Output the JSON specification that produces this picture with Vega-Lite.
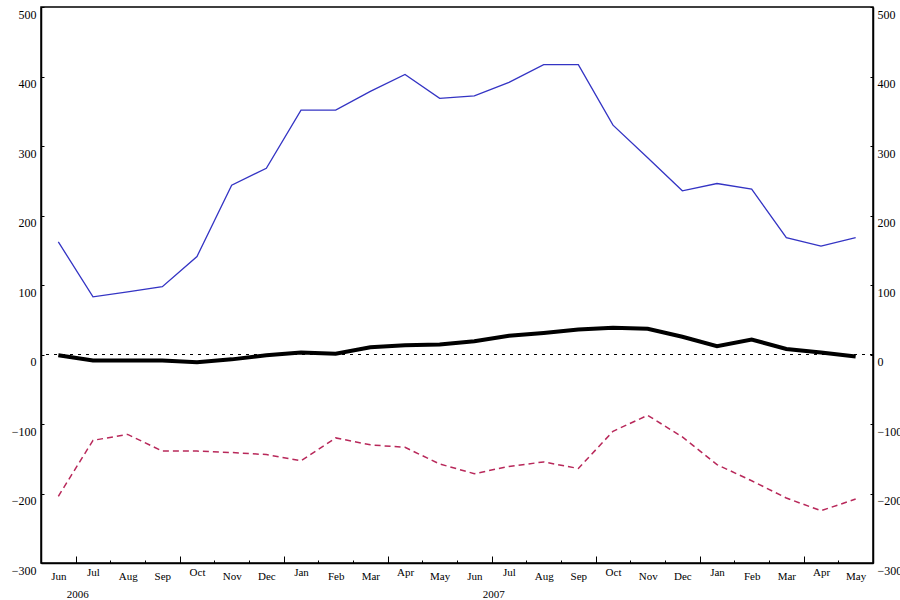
{
  "$schema": "https://vega.github.io/schema/vega-lite/v6.json",
  "width": 832,
  "height": 556,
  "autosize": "none",
  "padding": {"left": 41, "top": 7, "right": 27, "bottom": 37},
  "background": "white",
  "config": {"view": {"stroke": "black", "strokeWidth": 1.5}, "font": "Liberation Serif"},
  "data": {"values": [
    {"m": "Jun 2006", "blue": 162, "black": -1, "red": -204},
    {"m": "Jul 2006", "blue": 83, "black": -8.6, "red": -123.5},
    {"m": "Aug 2006", "blue": 90, "black": -8.6, "red": -115},
    {"m": "Sep 2006", "blue": 97.5, "black": -8.6, "red": -139},
    {"m": "Oct 2006", "blue": 141, "black": -11, "red": -139},
    {"m": "Nov 2006", "blue": 243.5, "black": -7, "red": -141},
    {"m": "Dec 2006", "blue": 268, "black": -1, "red": -144},
    {"m": "Jan 2007", "blue": 351.6, "black": 3, "red": -153},
    {"m": "Feb 2007", "blue": 351.6, "black": 1, "red": -120},
    {"m": "Mar 2007", "blue": 378.5, "black": 10.5, "red": -130},
    {"m": "Apr 2007", "blue": 403, "black": 13.4, "red": -133.6},
    {"m": "May 2007", "blue": 368.5, "black": 14.4, "red": -157.5},
    {"m": "Jun 2007", "blue": 372, "black": 19, "red": -171.5},
    {"m": "Jul 2007", "blue": 391.5, "black": 27, "red": -161},
    {"m": "Aug 2007", "blue": 417, "black": 31, "red": -154.6},
    {"m": "Sep 2007", "blue": 417, "black": 36, "red": -164},
    {"m": "Oct 2007", "blue": 330, "black": 38.5, "red": -110.5},
    {"m": "Nov 2007", "blue": 283, "black": 37, "red": -87.5},
    {"m": "Dec 2007", "blue": 235.5, "black": 25.5, "red": -118.6},
    {"m": "Jan 2008", "blue": 246, "black": 12, "red": -158.5},
    {"m": "Feb 2008", "blue": 238, "black": 21.6, "red": -181.6},
    {"m": "Mar 2008", "blue": 168, "black": 8, "red": -206.5},
    {"m": "Apr 2008", "blue": 156, "black": 3, "red": -224.8},
    {"m": "May 2008", "blue": 168, "black": -3, "red": -208}
  ]},
  "layer": [
    {
      "mark": {"type": "rule", "strokeDash": [3, 5], "color": "black", "strokeWidth": 1.1},
      "encoding": {
        "y": {"datum": 0, "type": "quantitative", "scale": {"domain": [-300, 500], "nice": false},
          "axis": {"orient": "right", "title": null, "values": [-300, -200, -100, 0, 100, 200, 300, 400, 500],
            "tickSize": -3, "labelPadding": 7, "labelOffset": 7, "labelFontSize": 12, "labelColor": "black",
            "labelFont": "Liberation Serif", "domainColor": "black", "domainWidth": 1.5, "tickColor": "black", "grid": false}}
      }
    },
    {
      "layer": [
        {"mark": {"type": "line", "color": "#3434c4", "strokeWidth": 1.3},
          "encoding": {
            "x": {"field": "m", "type": "ordinal", "sort": null,
              "axis": {"orient": "bottom", "title": null, "labelAngle": 0, "tickOffset": -17.333, "labelOffset": 17.333,
                "labelExpr": "slice(datum.value,0,3)",
                "tickSize": {"condition": {"test": "indexof(['Jul','Oct','Jan','Apr'], slice(datum.value,0,3)) >= 0", "value": -7}, "value": -3},
                "labelPadding": 10, "labelFontSize": 11, "labelColor": "black", "labelFont": "Liberation Serif",
                "domainColor": "black", "domainWidth": 1.5, "tickColor": "black", "grid": false}},
            "y": {"field": "blue", "type": "quantitative", "scale": {"domain": [-300, 500], "nice": false},
            "axis": {"orient": "left", "title": null, "values": [-300, -200, -100, 0, 100, 200, 300, 400, 500],
              "tickSize": -3, "labelPadding": 8, "labelOffset": 7, "labelFontSize": 12, "labelColor": "black",
              "labelFont": "Liberation Serif", "domainColor": "black", "domainWidth": 1.5, "tickColor": "black", "grid": false}}}},
        {"mark": {"type": "line", "color": "#b8285a", "strokeWidth": 1.5, "strokeDash": [6, 4]},
          "encoding": {
            "x": {"field": "m", "type": "ordinal", "sort": null,
              "axis": {"orient": "bottom", "title": null, "labelAngle": 0, "labelOffset": 19,
                "labelExpr": "slice(datum.value,0,3) == 'Jun' ? slice(datum.value,4) : ''",
                "ticks": false, "domain": false,
                "labelPadding": 25, "labelFontSize": 11, "labelColor": "black", "labelFont": "Liberation Serif", "grid": false}},
            "y": {"field": "red", "type": "quantitative"}}},
        {"mark": {"type": "line", "color": "black", "strokeWidth": 4},
          "encoding": {
            "x": {"field": "m", "type": "ordinal", "sort": null, "axis": null},
            "y": {"field": "black", "type": "quantitative"}}}
      ],
      "resolve": {"axis": {"x": "independent"}}
    }
  ],
  "resolve": {"scale": {"y": "independent"}}
}
